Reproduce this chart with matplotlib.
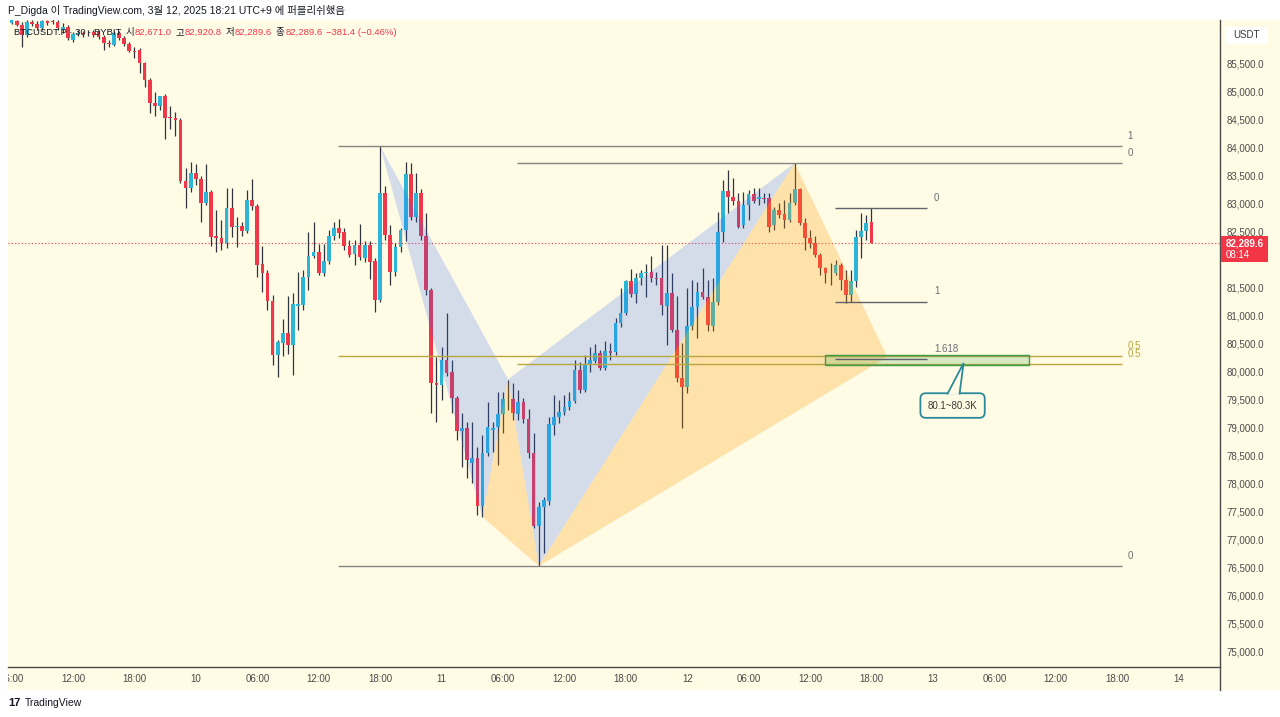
import matplotlib
matplotlib.use('Agg')
import matplotlib.pyplot as plt
import numpy as np
from matplotlib.patches import Rectangle, Polygon
from matplotlib.transforms import blended_transform_factory

plt.rcParams['font.family'] = ['Liberation Sans', 'Noto Sans CJK KR', 'DejaVu Sans']

# ---------------- data (30-minute candles, BTCUSDT.P, from 9 Mar 06:00) ----------------
opens = [86230, 86270, 86200, 86020, 86250, 86220, 86140, 86270, 86270, 86250,
         86110, 86160, 85930, 86040, 86055, 86040, 86075, 86070, 85980, 85875,
         85840, 86055, 85965, 85858, 85733, 85751, 85518, 85214, 84802, 84749,
         84928, 84534, 84534, 84498, 83407, 83282, 83550, 83443, 83013, 83210,
         82423, 82387, 82298, 82924, 82584, 82602, 82513, 83067, 82960, 81922,
         81761, 81260, 80294, 80509, 80688, 80473, 81180, 81189, 81690, 82066,
         82137, 81761, 81976, 82423, 82566, 82495, 82245, 82102, 82263, 82030,
         82263, 81976, 81278, 83192, 82441, 81779, 82227, 82530, 83532, 82763,
         83192, 82423, 81457, 79793, 79758, 80205, 79990, 79525, 78935, 78989,
         78363, 78452, 77593, 78541, 78953, 79006, 79239, 79507, 79507, 79239,
         79454, 79150, 78541, 77235, 77570, 77682, 79042, 79185, 79275, 79364,
         79471, 80026, 79669, 80115, 80187, 80330, 80062, 80366, 80348, 80867,
         81046, 81618, 81386, 81672, 81761, 81779, 81672, 81672, 81171, 81404,
         80742, 79883, 79722, 80813, 81153, 81422, 81332, 80813, 81243, 82495,
         83228, 83121, 83049, 82620, 82978, 83175, 83085, 83103, 83103, 82620,
         82888, 82817, 82709, 83013, 83264, 82656, 82387, 82298, 82084, 81851,
         81761, 81761, 81905, 81636, 81368, 81618, 82405, 82513, 82671.0]
highs = [86320, 86290, 86250, 86290, 86290, 86270, 86290, 86290, 86300, 86290,
         86230, 86200, 86070, 86110, 86090, 86110, 86110, 86110, 86020, 85930,
         86090, 86090, 86000, 85894, 85804, 85786, 85536, 85250, 84999, 84935,
         84964, 84749, 84641, 84534, 83640, 83747, 83711, 83496, 83711, 83246,
         82888, 82709, 83282, 83282, 82763, 82674, 83246, 83443, 82996, 82245,
         81815, 81368, 80560, 80938, 81350, 81404, 81780, 81815, 82495, 82674,
         82280, 82280, 82530, 82674, 82727, 82566, 82352, 82352, 82638, 82334,
         82334, 82030, 84030, 83318, 82620, 82298, 82566, 83747, 83729, 83550,
         83264, 82835, 81493, 80259, 80437, 81046, 80205, 79561, 79257, 79096,
         79096, 78648, 78863, 79454, 79096, 79633, 79633, 79847, 79793, 79669,
         79525, 79328, 78899, 77665, 77754, 79185, 79579, 79489, 79579, 79633,
         80205, 80169, 80294, 80437, 80491, 80384, 80544, 80509, 80956, 81493,
         81640, 81833, 81761, 81815, 81923, 82066, 81779, 82263, 82263, 81761,
         81350, 80509, 81493, 81636, 81600, 81851, 81636, 81672, 82853, 83425,
         83604, 83461, 83193, 83210, 83246, 83282, 83282, 83192, 83192, 82942,
         83013, 83067, 83192, 83729, 83290, 82745, 82530, 82423, 82120, 81869,
         81940, 81995, 81940, 81815, 81815, 82530, 82835, 82799, 82920.8]
lows = [86210, 86180, 85800, 85980, 86180, 86110, 86110, 86200, 86220, 86110,
        86055, 85930, 85890, 86000, 85980, 86000, 85980, 85950, 85750, 85800,
        85820, 85930, 85820, 85715, 85607, 85339, 85089, 84624, 84570, 84677,
        84158, 84337, 84212, 83372, 82924, 83210, 83336, 82674, 82978, 82245,
        82137, 82173, 82209, 82405, 82227, 82423, 82477, 82888, 81690, 81422,
        81099, 80115, 79901, 80276, 80312, 79937, 80742, 81099, 81457, 82030,
        81725, 81708, 81922, 82352, 82387, 82173, 82048, 81905, 81995, 81958,
        81654, 81064, 81243, 82352, 81547, 81708, 82137, 82334, 82709, 82674,
        82352, 81368, 79257, 79096, 79489, 79919, 79257, 78774, 78291, 78094,
        78005, 77432, 77396, 78488, 78560, 78327, 78899, 79310, 79132, 79132,
        79078, 78452, 77200, 76520, 76752, 77610, 78863, 79078, 79221, 79310,
        79436, 79615, 79633, 79990, 80151, 80026, 80026, 80205, 80294, 80795,
        81010, 81332, 81225, 81547, 81332, 81600, 81547, 81010, 80473, 80706,
        79812, 78989, 79615, 80742, 80598, 81296, 80724, 80724, 81189, 82316,
        82835, 82978, 82566, 82566, 82709, 83013, 82978, 83013, 82495, 82530,
        82745, 82566, 82674, 82978, 82620, 82173, 82209, 82048, 81725, 81582,
        81547, 81725, 81457, 81225, 81243, 81511, 82030, 82352, 82289.6]
closes = [86290, 86200, 86020, 86250, 86220, 86140, 86270, 86230, 86250, 86140,
          86160, 85965, 86040, 86055, 86040, 86030, 86020, 85980, 85875, 85858,
          86055, 85965, 85858, 85733, 85715, 85518, 85214, 84802, 84749, 84928,
          84534, 84530, 84498, 83407, 83282, 83550, 83443, 83013, 83210, 82405,
          82387, 82298, 82924, 82584, 82590, 82513, 83067, 82960, 81905, 81761,
          81260, 80294, 80527, 80688, 80473, 81207, 81210, 81690, 82066, 82137,
          81761, 81976, 82423, 82566, 82477, 82245, 82084, 82263, 82048, 82263,
          81958, 81278, 83192, 82441, 81779, 82227, 82530, 83532, 82763, 83192,
          82423, 81457, 79793, 79758, 80205, 79972, 79525, 78935, 78989, 78416,
          78452, 77593, 78541, 79006, 78989, 79239, 79507, 79500, 79257, 79454,
          79150, 78541, 77235, 77570, 77700, 79060, 79185, 79275, 79364, 79471,
          80026, 79669, 80115, 80205, 80330, 80062, 80366, 80330, 80867, 81046,
          81618, 81386, 81672, 81761, 81779, 81672, 81654, 81189, 81404, 80742,
          79883, 79722, 80813, 81153, 81422, 81332, 80831, 81243, 82495, 83228,
          83121, 83049, 82584, 82978, 83175, 83049, 83121, 83085, 82584, 82888,
          82799, 82709, 83013, 83264, 82656, 82387, 82298, 82084, 81851, 81761,
          81755, 81905, 81636, 81368, 81618, 82405, 82513, 82656, 82289.6]

tick_idx = list(range(0, 229, 12))
tick_labels = ['06:00', '12:00', '18:00', '10', '06:00', '12:00', '18:00', '11',
               '06:00', '12:00', '18:00', '12', '06:00', '12:00', '18:00', '13',
               '06:00', '12:00', '18:00', '14']
price_ticks = list(range(75000, 85501, 500))
last_price = 82289.6

# harmonic pattern pivots (candle index, price)
pattern_idx = [72, 92, 97, 103, 153, 171.1]
pattern_price = [84030, 77400, 79860, 76520, 83729, 80258]

# fib retracements
fib1_levels = [84030, 80275, 76520]
fib1_labels = ['1', '0.5', '0']
fib2_levels = [83729, 80125]
fib2_labels = ['0', '0.5']
fib3_levels = [82920.8, 81250, 80218]
fib3_labels = ['0', '1', '1.618']
zone = (80110, 80300)
zone_text = '80.1~80.3K'

# ---------------- styling ----------------
W, H = 1280, 717
BG = '#fffbe4'
UP = '#2bb6d8'
DN = '#f0384a'
WICK = '#30343e'
GRAY = '#858585'
OLIVE = '#b9a640'
TEAL = '#2a8a9c'
TXT = '#4a4a4a'
DARK = '#131722'

fig = plt.figure(figsize=(12.8, 7.17), dpi=100, facecolor='white')
fig.patches.append(Rectangle((8 / W, 1 - 690 / H), (W - 8) / W, 670 / H,
                             transform=fig.transFigure, fc=BG, ec='none', zorder=-5))
ax = fig.add_axes([8 / W, 1 - 667 / H, 1212 / W, 647 / H])
ax.set_zorder(1)
ax.set_facecolor(BG)
ax.set_xlim(-0.7, 236.1)
ax.set_ylim(74714, 86287)

O = np.array(opens); Hh = np.array(highs); L = np.array(lows); C = np.array(closes)
x = np.arange(len(O))
cols = np.where(C >= O, UP, DN)
ax.vlines(x, L, Hh, color=WICK, lw=0.9, zorder=2)
ax.bar(x, np.maximum(np.abs(C - O), 14), bottom=np.minimum(O, C), width=0.72,
       color=cols, linewidth=0, zorder=3)

# current price dotted line
ax.axhline(last_price, color='#f23645', lw=0.8, ls=(0, (1, 2)), zorder=1)

# pattern triangles
for k in range(4):
    pts = [(pattern_idx[k + i], pattern_price[k + i]) for i in range(3)]
    if k % 2 == 0:
        fc = (41 / 255, 98 / 255, 1.0, 0.2)
    else:
        fc = (1.0, 152 / 255, 0.0, 0.25)
    ax.add_patch(Polygon(pts, closed=True, fc=fc, ec='none', zorder=4))


def fib(levels, labels, x0, x1, lx, colors):
    for lv, lb, c in zip(levels, labels, colors):
        ax.plot([x0, x1], [lv, lv], color=c, lw=1, zorder=5, solid_capstyle='butt')
        ax.annotate(lb, (lx, lv), xytext=(0, 7.5), textcoords='offset points',
                    ha='left', va='center', fontsize=7,
                    color=(OLIVE if c == OLIVE else '#6b6e78'), zorder=6)


fib(fib1_levels, fib1_labels, 63.8, 217.0, 218.0, [GRAY, OLIVE, GRAY])
fib(fib2_levels, fib2_labels, 98.8, 217.0, 218.0, [GRAY, OLIVE])

# zone rectangle
ax.add_patch(Rectangle((159.0, zone[0]), 39.8, zone[1] - zone[0],
                       fc=(76 / 255, 175 / 255, 80 / 255, 0.22), ec='#3f9a4a', lw=1, zorder=5))
fib(fib3_levels, fib3_labels, 160.9, 178.9, 180.2, ['#5f626c'] * 3)

# callout
ax.text(183.85, 79391, zone_text, ha='center', va='center', fontsize=7, color='#3a3a3a',
        bbox=dict(boxstyle='round,pad=0.75,rounding_size=0.55', fc=BG, ec=TEAL, lw=1.3),
        zorder=7)
ax.add_patch(Polygon([(182.8, 79590), (186.0, 80150), (185.2, 79590)], closed=False,
                     fc=BG, ec=TEAL, lw=1.3, zorder=8))

# axes styling
for s in ['top', 'left', 'right']:
    ax.spines[s].set_visible(False)
ax.spines['bottom'].set_color('#4a4a4a')
ax.spines['bottom'].set_linewidth(1)
ax.yaxis.tick_right()
ax.set_yticks(price_ticks)
ax.set_yticklabels(['' if v == 82000 else f'{v:,.1f}' for v in price_ticks])
ax.set_xticks(tick_idx)
ax.set_xticklabels(tick_labels)
ax.tick_params(axis='y', length=0, pad=5, labelsize=7, labelcolor=TXT)
ax.tick_params(axis='x', length=0, pad=5, labelsize=7, labelcolor=TXT)
# clip time labels to the pane width (first label is cut at the left edge)
clip_rect = Rectangle((8 / W, 0), 1212 / W, 1, transform=fig.transFigure)
for lbl in ax.get_xticklabels():
    lbl.set_clip_path(clip_rect)

# right separator line
fig.add_artist(plt.Line2D([1220 / W, 1220 / W], [1 - 20 / H, 1 - 690 / H],
                          transform=fig.transFigure, color='#4a4a4a', lw=1, zorder=9))

# USDT box
fig.add_artist(Rectangle((1225 / W, 1 - 44 / H), 43 / W, 17 / H, transform=fig.transFigure,
                         fc='white', ec='none', zorder=10))
fig.text(1246.5 / W, 1 - 35.5 / H, 'USDT', fontsize=7, ha='center', va='center',
         color='#3a3a3a', zorder=11)

# last price label
bt = blended_transform_factory(fig.transFigure, ax.transData)
px = (86287 - 74714) / 647.0
fig.add_artist(Rectangle((1221 / W, last_price - 18.5 * px), 47 / W, 26 * px, transform=bt,
                         fc='#f23645', ec='none', zorder=10))
fig.text(1226 / W, 1 - 243.5 / H, f'{last_price:,.1f}', fontsize=7, color='white',
         fontweight='bold', va='center', ha='left', zorder=11)
fig.text(1226 / W, 1 - 255.5 / H, '08:14', fontsize=7, color='white',
         va='center', ha='left', zorder=11)

# header texts
fig.text(8 / W, 1 - 11 / H, 'P_Digda 이 TradingView.com, 3월 12, 2025 18:21 UTC+9 에 퍼블리쉬했음',
         fontsize=7.5, va='center', ha='left', color=DARK)
hdr_y = 1 - 32.5 / H
segs = [('BTCUSDT.P · 30 · BYBIT', DARK, 4),
        ('시', DARK, 0.5), ('82,671.0', DN, 4),
        ('고', DARK, 0.5), ('82,920.8', DN, 4),
        ('저', DARK, 0.5), ('82,289.6', DN, 4),
        ('종', DARK, 0.5), ('82,289.6', DN, 4),
        ('−381.4 (−0.46%)', DN, 0)]
fig.canvas.draw()
renderer = fig.canvas.get_renderer()
cx = 14.0
for st, sc, gap in segs:
    t = fig.text(cx / W, hdr_y, st, fontsize=6.8, va='center', ha='left', color=sc, zorder=12)
    w = t.get_window_extent(renderer=renderer).width
    cx += w + gap

# footer
fig.text(8 / W, 1 - 703 / H, '17', fontsize=8, fontweight='bold', va='center', ha='left',
         color=DARK)
fig.text(25 / W, 1 - 703 / H, 'TradingView', fontsize=7.5, va='center', ha='left',
         color=DARK)

fig.savefig('out.png', dpi=100, facecolor='white')
